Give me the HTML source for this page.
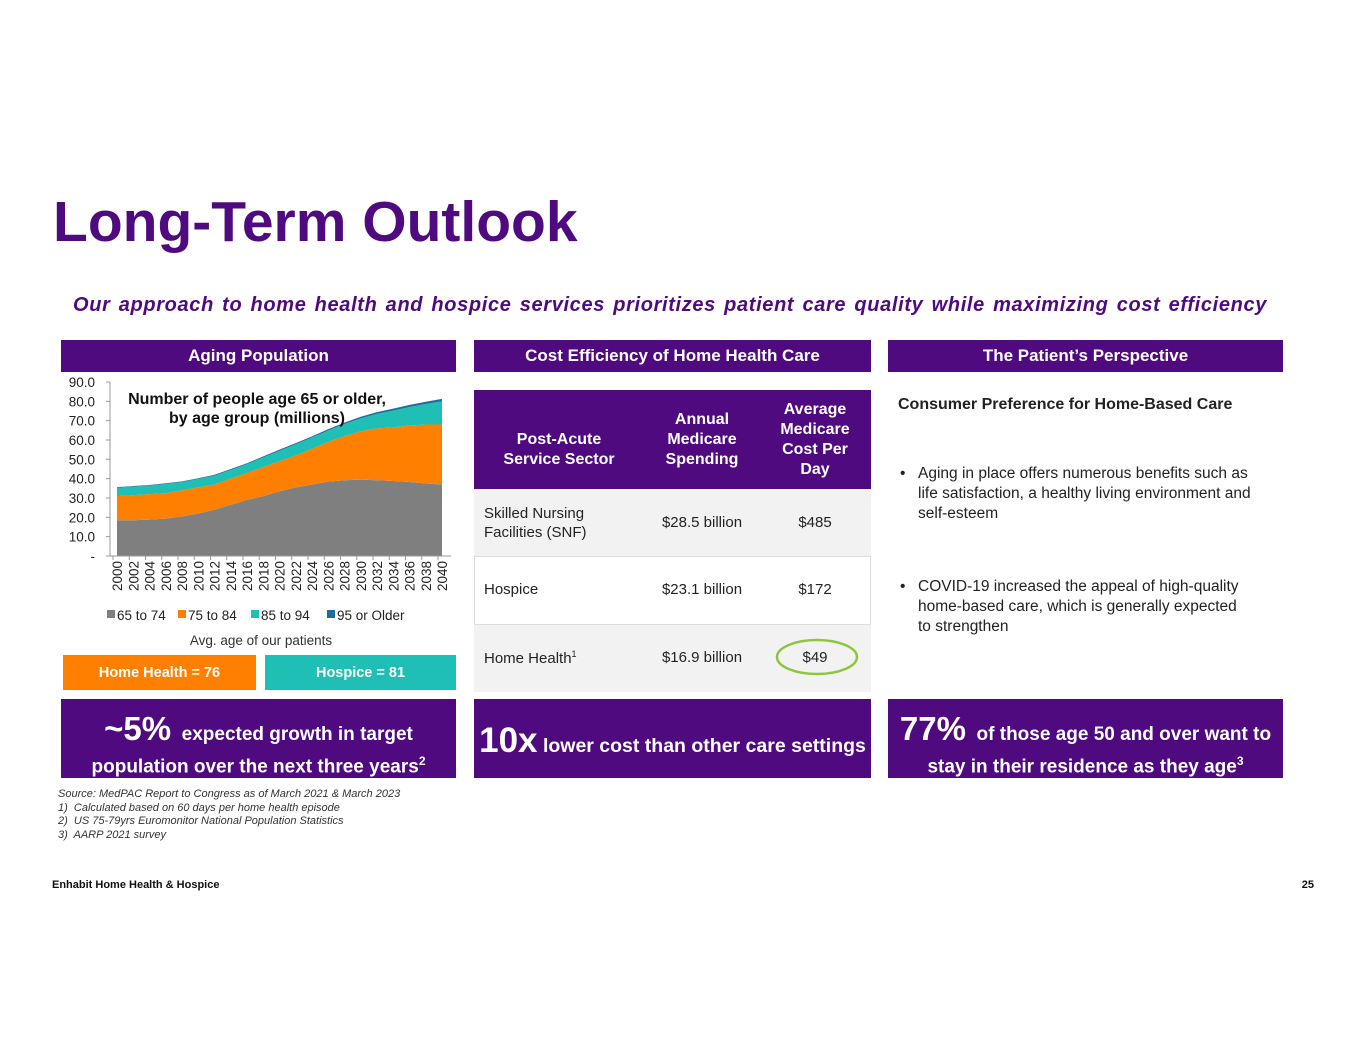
<!DOCTYPE html>
<html><head><meta charset="utf-8"><style>
body{margin:0;width:1365px;height:1055px;background:#fff;position:relative;font-family:"Liberation Sans",Arial,sans-serif;overflow:hidden}
.a{position:absolute}
.hdr{position:absolute;top:340px;height:32px;background:#4e0a7e;color:#fff;font-weight:bold;font-size:17px;text-align:center;line-height:32px}
.pb{position:absolute;top:699px;height:79px;background:#4e0a7e;color:#fff;font-weight:bold;text-align:center}
.cell{position:absolute;font-size:15px;color:#222}
.bul{position:absolute;left:900px;font-size:15.5px;color:#222;line-height:20px;width:372px}
.bul span{position:absolute;left:0}
.bul div{margin-left:18px}
</style></head><body>
<div class="a" style="left:53px;top:189px;font-size:57px;font-weight:bold;color:#4e0a7e">Long-Term Outlook</div>
<div class="a" style="left:73px;top:294px;width:1220px;white-space:nowrap;font-size:20px;font-weight:bold;font-style:italic;color:#4e0a7e;letter-spacing:0.65px;word-spacing:2px">Our approach to home health and hospice services prioritizes patient care quality while maximizing cost efficiency</div>

<div class="hdr" style="left:61px;width:395px">Aging Population</div>
<div class="hdr" style="left:474px;width:397px">Cost Efficiency of Home Health Care</div>
<div class="hdr" style="left:888px;width:395px">The Patient’s Perspective</div>

<svg class="a" id="chart" style="left:60px;top:372px" width="400" height="260"></svg>
<div class="a" style="left:61px;top:633px;width:400px;text-align:center;font-size:13.5px;color:#333">Avg. age of our patients</div>
<div class="a" style="left:63px;top:655px;width:193px;height:35px;background:#ff8000;color:#fff;font-weight:bold;font-size:14.5px;text-align:center;line-height:37px">Home Health = 76</div>
<div class="a" style="left:265px;top:655px;width:191px;height:35px;background:#1fbfb5;color:#fff;font-weight:bold;font-size:14.5px;text-align:center;line-height:37px">Hospice = 81</div>

<div class="a" style="left:474px;top:390px;width:397px;height:301px;border:1px solid #ddd;box-sizing:border-box">
<div class="a" style="left:-1px;top:-1px;width:397px;height:99px;background:#4e0a7e"></div>
<div class="a" style="left:-1px;top:98px;width:397px;height:67px;background:#f2f2f2;border-bottom:1px solid #ddd"></div>
<div class="a" style="left:-1px;top:233px;width:397px;height:67px;background:#f2f2f2;border-top:1px solid #ddd"></div>
</div>
<div class="cell" style="left:474px;top:430px;width:170px;text-align:center;color:#fff;font-weight:bold;font-size:16px;line-height:20px">Post-Acute<br>Service Sector</div>
<div class="cell" style="left:632px;top:410px;width:140px;text-align:center;color:#fff;font-weight:bold;font-size:16px;line-height:20px">Annual<br>Medicare<br>Spending</div>
<div class="cell" style="left:760px;top:400px;width:110px;text-align:center;color:#fff;font-weight:bold;font-size:16px;line-height:20px">Average<br>Medicare<br>Cost Per<br>Day</div>
<div class="cell" style="left:484px;top:504px;line-height:19px">Skilled Nursing<br>Facilities (SNF)</div>
<div class="cell" style="left:632px;top:514px;width:140px;text-align:center">$28.5 billion</div>
<div class="cell" style="left:760px;top:514px;width:110px;text-align:center">$485</div>
<div class="cell" style="left:484px;top:581px">Hospice</div>
<div class="cell" style="left:632px;top:581px;width:140px;text-align:center">$23.1 billion</div>
<div class="cell" style="left:760px;top:581px;width:110px;text-align:center">$172</div>
<div class="cell" style="left:484px;top:649px">Home Health<sup style="font-size:9px">1</sup></div>
<div class="cell" style="left:632px;top:649px;width:140px;text-align:center">$16.9 billion</div>
<div class="cell" style="left:760px;top:649px;width:110px;text-align:center">$49</div>
<svg class="a" style="left:770px;top:634px" width="95" height="46"><ellipse cx="47" cy="23" rx="40" ry="17" fill="none" stroke="#8cc63f" stroke-width="2.5"/></svg>

<div class="a" style="left:898px;top:396px;font-size:16px;font-weight:bold;color:#222">Consumer Preference for Home-Based Care</div>
<div class="bul" style="top:464px"><span>•</span><div>Aging in place offers numerous benefits such as<br>life satisfaction, a healthy living environment and<br>self-esteem</div></div>
<div class="bul" style="top:577px"><span>•</span><div>COVID-19 increased the appeal of high-quality<br>home-based care, which is generally expected<br>to strengthen</div></div>

<div class="pb" style="left:61px;width:395px;font-size:19px;line-height:27px;padding-top:16px;height:63px"><span style="font-size:33px">~5%</span>&nbsp; expected growth in target<br>population over the next three years<sup style="font-size:12px">2</sup></div>
<div class="pb" style="left:474px;width:397px;font-size:19.5px;line-height:84px;white-space:nowrap"><span style="font-size:35px">10x</span> lower cost than other care settings</div>
<div class="pb" style="left:888px;width:395px;font-size:19px;line-height:27px;padding-top:16px;height:63px"><span style="font-size:33px">77%</span>&nbsp; of those age 50 and over want to<br>stay in their residence as they age<sup style="font-size:12px">3</sup></div>

<div class="a" style="left:58px;top:788px;font-size:11px;font-style:italic;color:#333;line-height:13.5px">Source: MedPAC Report to Congress as of March 2021 &amp; March 2023<br>1)&nbsp; Calculated based on 60 days per home health episode<br>2)&nbsp; US 75-79yrs Euromonitor National Population Statistics<br>3)&nbsp; AARP 2021 survey</div>
<div class="a" style="left:52px;top:879px;font-size:11px;font-weight:bold;color:#111">Enhabit Home Health &amp; Hospice</div>
<div class="a" style="left:1290px;top:879px;width:24px;text-align:right;font-size:11px;font-weight:bold;color:#111">25</div>

<script>
const years=[2000,2002,2004,2006,2008,2010,2012,2014,2016,2018,2020,2022,2024,2026,2028,2030,2032,2034,2036,2038,2040];
const s65to74=[18.5,18.5,18.8,19.3,20.5,22,24,26.5,29,31,33.5,35.5,37,38.5,39.2,39.5,39.2,38.8,38.3,37.5,37];
const s75to84=[12.5,13,13.2,13.2,13.5,13.5,13,13.5,14,15,15.5,16.5,18.5,20.5,22.8,25,26.8,27.7,29.2,30.5,31];
const s85to94=[4.3,4.4,4.4,4.8,4.3,4.3,4.6,4.5,4.5,5,5.4,5.8,5.8,5.9,6.3,6.7,7.5,8.7,9.6,10.6,12];
const s95plus=[0.3,0.3,0.3,0.3,0.3,0.4,0.4,0.5,0.5,0.5,0.6,0.6,0.6,0.7,0.7,0.8,0.9,1,1.1,1.2,1.3];
const seriesNames=["65 to 74","75 to 84","85 to 94","95 or Older"];
const seriesColors=["#7f7f7f","#ff8000","#1fbfb5","#1a6f9e"];
const yTicks=[0,10,20,30,40,50,60,70,80,90];
const NS="http://www.w3.org/2000/svg";
const svg=document.getElementById('chart');
const X=y=>57+(y-2000)/40*325, Y=v=>184-v/90*174;
function mk(t,a){const e=document.createElementNS(NS,t);for(const k in a)e.setAttribute(k,a[k]);svg.appendChild(e);return e;}
const all=[s65to74,s75to84,s85to94,s95plus];
let base=years.map(()=>0);
all.forEach((s,i)=>{
  const top=base.map((b,j)=>b+s[j]);
  let d=years.map((y,j)=>(j?'L':'M')+X(y)+','+Y(top[j])).join('');
  for(let j=years.length-1;j>=0;j--)d+='L'+X(years[j])+','+Y(base[j]);
  const p=mk('path',{d:d+'Z',fill:seriesColors[i]});
  
  
  base=top;
});
mk('line',{x1:50,y1:Y(0),x2:391,y2:Y(0),stroke:'#999'});
mk('line',{x1:50,y1:Y(0),x2:50,y2:Y(90),stroke:'#999'});
yTicks.forEach(v=>{
  mk('line',{x1:46,y1:Y(v),x2:50,y2:Y(v),stroke:'#999'});
  const t=mk('text',{x:35,y:Y(v)+5,'text-anchor':'end','font-size':13.5,fill:'#222'});
  t.textContent=v===0?'-':v.toFixed(1);
  
  
});
years.forEach(y=>{
  mk('line',{x1:X(y)-4,y1:Y(0),x2:X(y)-4,y2:Y(0)+4,stroke:'#999'});
  const t=mk('text',{transform:`translate(${X(y)+5},${Y(0)+5}) rotate(-90)`,'text-anchor':'end','font-size':13.5,fill:'#222'});
  t.textContent=y;
  
  
});
[['Number of people age 65 or older,',32],['by age group (millions)',51]].forEach(([s,yy])=>{
  const t=mk('text',{x:197,y:yy,'text-anchor':'middle','font-size':16,'font-weight':'bold',fill:'#111'});
  t.textContent=s;
  
  
});
const lx=[47,118,191,267];
seriesNames.forEach((n,i)=>{
  mk('rect',{x:lx[i],y:238,width:8,height:8,fill:seriesColors[i]});
  const t=mk('text',{x:lx[i]+10,y:248,'font-size':13.5,fill:'#222'});
  t.textContent=n;
  
  
});
</script>
</body></html>
